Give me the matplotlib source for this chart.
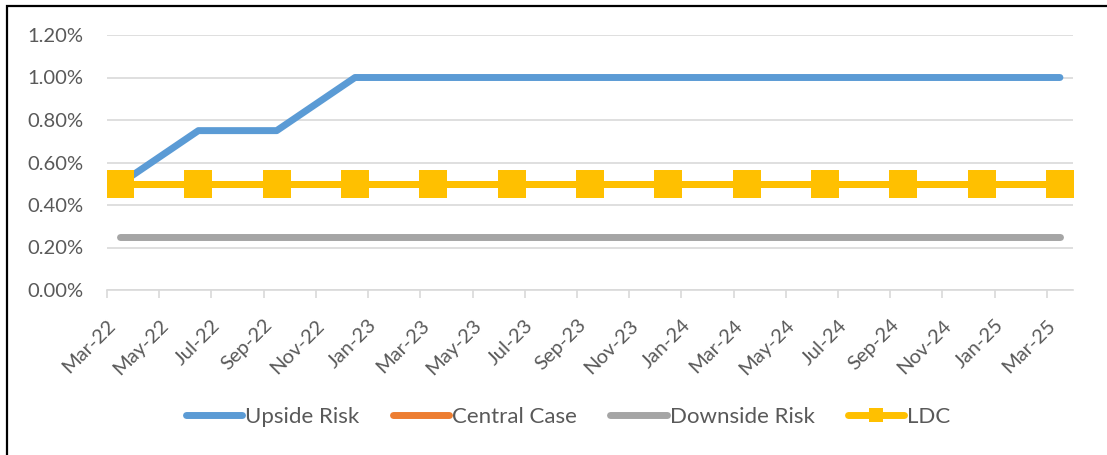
import matplotlib.pyplot as plt
import matplotlib.transforms as mtransforms
from matplotlib.lines import Line2D
from matplotlib.patches import Rectangle

plt.rcParams['font.family'] = ['Lato', 'DejaVu Sans']

# quarterly rate paths, in percent
quarters = ['Mar-22', 'Jun-22', 'Sep-22', 'Dec-22', 'Mar-23', 'Jun-23', 'Sep-23',
            'Dec-23', 'Mar-24', 'Jun-24', 'Sep-24', 'Dec-24', 'Mar-25']
upside = [0.50, 0.75, 0.75, 1.00, 1.00, 1.00, 1.00, 1.00, 1.00, 1.00, 1.00, 1.00, 1.00]
central = [0.50, 0.50, 0.50, 0.50, 0.50, 0.50, 0.50, 0.50, 0.50, 0.50, 0.50, 0.50, 0.50]
downside = [0.25, 0.25, 0.25, 0.25, 0.25, 0.25, 0.25, 0.25, 0.25, 0.25, 0.25, 0.25, 0.25]
ldc = [0.50, 0.50, 0.50, 0.50, 0.50, 0.50, 0.50, 0.50, 0.50, 0.50, 0.50, 0.50, 0.50]

month_labels = ['Mar-22', 'May-22', 'Jul-22', 'Sep-22', 'Nov-22', 'Jan-23', 'Mar-23',
                'May-23', 'Jul-23', 'Sep-23', 'Nov-23', 'Jan-24', 'Mar-24', 'May-24',
                'Jul-24', 'Sep-24', 'Nov-24', 'Jan-25', 'Mar-25']
y_ticks = [0.0, 0.2, 0.4, 0.6, 0.8, 1.0, 1.2]

MONTHS = {'Jan': 1, 'Feb': 2, 'Mar': 3, 'Apr': 4, 'May': 5, 'Jun': 6, 'Jul': 7,
          'Aug': 8, 'Sep': 9, 'Oct': 10, 'Nov': 11, 'Dec': 12}


def month_index(label):
    # months since Mar-22
    mon, yr = label.split('-')
    return (int(yr) - 22) * 12 + MONTHS[mon] - 3


# points sit in the middle of their month slot
x = [month_index(q) + 0.5 for q in quarters]
tick_pos = [month_index(m) for m in month_labels]

W, H = 1107, 455
FS = 14.5
fig = plt.figure(figsize=(W / 100, H / 100), dpi=100)
ax = fig.add_axes([107 / W, (H - 290) / H, (1073 - 107) / W, 255 / H])

lw = 5
ax.plot(x, upside, color='#5B9BD5', lw=lw, solid_capstyle='round', solid_joinstyle='round',
        label='Upside Risk', zorder=3)
ax.plot(x, central, color='#ED7D31', lw=lw, solid_capstyle='round', label='Central Case', zorder=3)
ax.plot(x, downside, color='#A5A5A5', lw=lw, solid_capstyle='round', label='Downside Risk', zorder=3)
ax.plot(x, ldc, color='#FFC000', lw=lw, solid_capstyle='round', marker='s', markersize=20,
        markeredgewidth=0, label='LDC', zorder=4)

ax.set_xlim(0, 37)
ax.set_ylim(0, 1.2)
ax.set_yticks(y_ticks)
ax.set_yticklabels([f'{v:.2f}%' for v in y_ticks])
ax.yaxis.grid(True, color='#D9D9D9', lw=1.2)
ax.set_axisbelow(True)

ax.set_xticks(tick_pos)
ax.set_xticklabels(month_labels, rotation=45, ha='right', va='top', rotation_mode='anchor')
shift = mtransforms.ScaledTranslation(15 / 100, 0, fig.dpi_scale_trans)
for lbl in ax.get_xticklabels():
    lbl.set_transform(lbl.get_transform() + shift)

for s in ['top', 'right', 'left']:
    ax.spines[s].set_visible(False)
ax.spines['bottom'].set_color('#D9D9D9')
ax.spines['bottom'].set_linewidth(1.2)
ax.tick_params(axis='x', length=6, width=1.2, color='#D9D9D9', pad=13,
               labelsize=FS, labelcolor='#595959')
ax.tick_params(axis='y', length=0, pad=17, labelsize=FS, labelcolor='#595959')

handles = [
    Line2D([], [], color='#5B9BD5', lw=lw, solid_capstyle='round'),
    Line2D([], [], color='#ED7D31', lw=lw, solid_capstyle='round'),
    Line2D([], [], color='#A5A5A5', lw=lw, solid_capstyle='round'),
    Line2D([], [], color='#FFC000', lw=lw, solid_capstyle='round', marker='s',
           markersize=10, markeredgewidth=0),
]
fig.legend(handles, ['Upside Risk', 'Central Case', 'Downside Risk', 'LDC'],
           loc='center', bbox_to_anchor=(568 / W, (H - 417) / H), ncol=4, frameon=False,
           fontsize=16, labelcolor='#595959', handlelength=2.55, handletextpad=0.12,
           columnspacing=1.5)

# chart border
fig.patches.append(Rectangle((7 / W, -0.1), 1.2, (H - 6) / H + 0.1, transform=fig.transFigure,
                             fill=False, edgecolor='black', lw=1.6))

fig.savefig('out.png', dpi=100)
